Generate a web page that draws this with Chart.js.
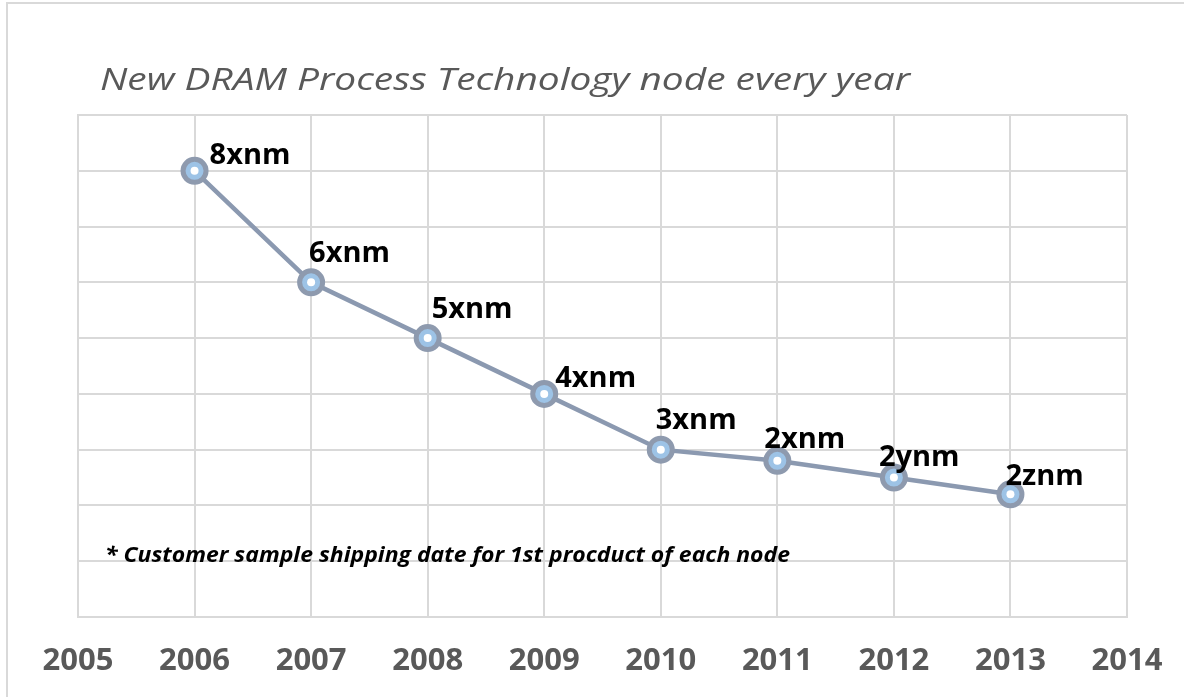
<!DOCTYPE html>
<html>
<head>
<meta charset="utf-8">
<script src="https://cdn.jsdelivr.net/npm/chart.js@4/dist/chart.umd.min.js"></script>
<style>
  html, body { margin: 0; padding: 0; background: #fff; }
  #wrap { position: relative; width: 1184px; height: 697px; overflow: hidden; }
  #frame { position: absolute; left: 6px; top: 2px; width: 1300px; height: 800px;
           border: 2px solid #d9d9d9; box-sizing: border-box; pointer-events: none; }
  canvas { position: absolute; left: 0; top: 0; }
</style>
</head>
<body>
<div id="wrap">
  <div id="frame"></div>
  <canvas id="chartUI" width="1184" height="697"></canvas>
</div>
<script>
// data
var years = [2006, 2007, 2008, 2009, 2010, 2011, 2012, 2013];
var nodeLevel = [8, 6, 5, 4, 3, 2.8, 2.5, 2.2];
var nodeNames = ['8xnm', '6xnm', '5xnm', '4xnm', '3xnm', '2xnm', '2ynm', '2znm'];
var xRange = [2005, 2014];
var yRange = [0, 9];
var titleText = 'New DRAM Process Technology node every year';
var noteText = '* Customer sample shipping date for 1st procduct of each node';

// label placement like the excel original (dx, dy from point to caps centre)
var labelNudge = [[15, -17], [-2, -30], [4, -30], [11, -17], [-5, -31], [-13, -23], [-15, -22], [-5, -19]];

var gridColor = '#d9d9d9';
var lineColor = '#8b99b0';

var points = years.map(function(y, i) { return {x: y, y: nodeLevel[i]}; });

// the original text is a bit wider than Open Sans, stretch it to fit
var stretchText = function(c, txt, x, y, w) {
	var k = w / c.measureText(txt).width;
	c.save();
	c.translate(x, y);
	c.scale(k, 1);
	c.fillText(txt, 0, 0);
	c.restore();
}

var textPlugin = {
	id: 'textPlugin',
	afterDatasetsDraw: function(chart) {
		var c = chart.ctx;
		c.save();
		c.textBaseline = 'alphabetic';
		c.textAlign = 'left';
		// title
		c.fillStyle = '#595959';
		c.font = 'italic 31px "Open Sans"';
		stretchText(c, titleText, 100, 90, 810);
		// note
		c.fillStyle = '#000';
		c.font = 'italic bold 21px "Open Sans"';
		stretchText(c, noteText, 105, 562, 685);
		// data labels
		var meta = chart.getDatasetMeta(1);
		c.font = 'bold 29px "Open Sans"';
		meta.data.forEach(function(pt, i) {
			var n = labelNudge[i];
			c.fillText(nodeNames[i], pt.x + n[0], pt.y + n[1] + 10);
		});
		c.restore();
	}
};

var ctx = document.getElementById('chartUI');
var chart = new Chart(ctx, {
	type: 'scatter',
	data: {
		datasets: [{
			// white centre of the markers
			data: points,
			showLine: false,
			pointRadius: 4,
			pointBorderWidth: 0,
			pointBackgroundColor: '#ffffff',
			clip: false
		}, {
			data: points,
			showLine: true,
			borderColor: lineColor,
			borderWidth: 4.5,
			pointRadius: 11.5,
			pointBorderWidth: 5,
			pointBorderColor: '#8e9aae',
			pointBackgroundColor: '#9dc3e6',
			clip: false
		}]
	},
	options: {
		responsive: false,
		animation: false,
		layout: { padding: { left: 78, right: 57, top: 115, bottom: 0 } },
		plugins: { legend: { display: false }, tooltip: { enabled: false }, title: { display: false } },
		scales: {
			x: {
				type: 'linear', min: xRange[0], max: xRange[1],
				grid: { color: gridColor, lineWidth: 2, drawTicks: false },
				border: { color: gridColor, width: 2 },
				afterFit: function(scale) {
					scale.height = 80;
					scale.paddingLeft = 0;
					scale.paddingRight = 0;
				},
				ticks: {
					stepSize: 1, padding: 26, color: '#595959',
					font: { family: '"Open Sans"', size: 31, weight: 'bold' },
					callback: function(v) { return String(v); }
				}
			},
			y: {
				min: yRange[0], max: yRange[1],
				grid: { color: gridColor, lineWidth: 2, drawTicks: false },
				border: { color: gridColor, width: 2 },
				ticks: { stepSize: 1, display: false }
			}
		}
	},
	plugins: [textPlugin]
});
</script>
</body>
</html>
